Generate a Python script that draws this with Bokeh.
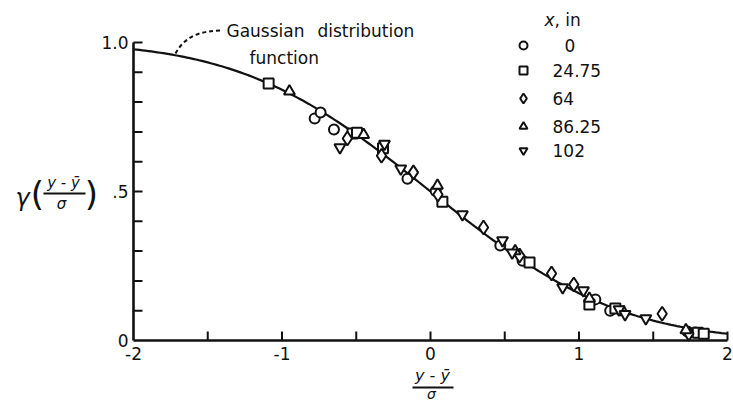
import math
from bokeh.plotting import figure
from bokeh.models import Range1d
from bokeh.core.properties import value
from bokeh.embed import file_html
from bokeh.resources import INLINE

# ---- measured points, gamma vs (y - ybar)/sigma, one list pair per station x (in) ----
circ_x = [-0.78, -0.74, -0.65, -0.155, 0.035, 0.47, 0.62, 1.11, 1.21, 1.73, 1.785]
circ_y = [0.745, 0.765, 0.708, 0.543, 0.502, 0.319, 0.268, 0.138, 0.100, 0.030, 0.027]

sq_x = [-1.09, -0.525, -0.495, -0.32, 0.08, 0.667, 1.07, 1.245, 1.80, 1.84]
sq_y = [0.862, 0.695, 0.697, 0.645, 0.466, 0.262, 0.121, 0.107, 0.026, 0.023]

dia_x = [-0.56, -0.33, -0.115, 0.05, 0.357, 0.60, 0.815, 0.965, 1.56, 1.74]
dia_y = [0.678, 0.620, 0.564, 0.490, 0.379, 0.285, 0.225, 0.188, 0.090, 0.023]

tri_x = [-0.95, -0.45, 0.047, 0.57, 1.07, 1.30, 1.72]
tri_y = [0.836, 0.690, 0.520, 0.300, 0.141, 0.095, 0.035]

inv_x = [-0.61, -0.31, -0.20, 0.215, 0.485, 0.55, 0.89, 1.03, 1.27, 1.31, 1.45]
inv_y = [0.648, 0.660, 0.577, 0.423, 0.336, 0.295, 0.178, 0.168, 0.104, 0.088, 0.074]

legend_labels = ["0", "24.75", "64", "86.25", "102"]
legend_markers = ["circle", "square", "diamond", "triangle", "inverted_triangle"]

x_ticks = [-2, -1.5, -1, -0.5, 0, 0.5, 1, 1.5, 2]
x_tick_labels = {-2: "-2", -1: "-1", 0: "0", 1: "1", 2: "2"}
y_ticks = [0.1, 0.2, 0.3, 0.4, 0.5, 0.6, 0.7, 0.8, 0.9, 1.0]
y_tick_labels = {0: "0", 0.5: ".5", 1.0: "1.0"}

# ---- Gaussian distribution function, gamma = 1 - Phi(eta) ----
curve_x = [-2 + i * 0.02 for i in range(201)]
curve_y = [0.5 * math.erfc(v / math.sqrt(2)) for v in curve_x]

# ---- canvas geometry: data frame fills the whole page ----
W, H = 733, 402
X0, XS = 133, 148.5      # pixel of eta=-2, pixels per unit
Y0, YS = 340, 298        # pixel of gamma=0, pixels per unit


def dx(px):
    return -2 + (px - X0) / XS


def dy(py):
    return (Y0 - py) / YS


FONT = value("DejaVu Sans")
INK = "#111111"

p = figure(width=W, height=H, output_backend="svg", toolbar_location=None,
           x_range=Range1d(dx(0), dx(W)), y_range=Range1d(dy(H), dy(0)),
           min_border=0, outline_line_color=None)
p.axis.visible = False
p.grid.visible = False
p.background_fill_color = "white"
p.border_fill_color = "white"

# axes lines
p.segment(x0=[-2, -2], y0=[0, 0], x1=[2, -2], y1=[0, 1.0], line_color=INK, line_width=2.6)
# x ticks (pointing up)
p.segment(x0=x_ticks[1:], y0=[0] * 8, x1=x_ticks[1:], y1=[dy(Y0 - 9)] * 8,
          line_color=INK, line_width=2)
# y ticks (pointing right)
p.segment(x0=[-2] * len(y_ticks), y0=y_ticks, x1=[dx(X0 + 9)] * len(y_ticks), y1=y_ticks,
          line_color=INK, line_width=2)

# tick labels
xl = list(x_tick_labels.keys())
p.text(x=xl, y=[dy(346)] * len(xl), text=[x_tick_labels[k] for k in xl],
       text_font=FONT, text_font_size="17px", text_align="center",
       text_baseline="top", text_color=INK)
yl = list(y_tick_labels.keys())
p.text(x=[dx(128)] * len(yl), y=yl, text=[y_tick_labels[k] for k in yl],
       text_font=FONT, text_font_size="17px", text_align="right",
       text_baseline="middle", text_color=INK)

# theoretical curve
p.line(curve_x, curve_y, line_color=INK, line_width=2.2)

# data markers
mk = dict(fill_color="white", line_color=INK, line_width=2)
p.scatter(circ_x, circ_y, marker="circle", size=10, **mk)
p.scatter(sq_x, sq_y, marker="square", size=10, **mk)
p.scatter(dia_x, dia_y, marker="diamond", size=14, **mk)
p.scatter(tri_x, tri_y, marker="triangle", size=11, **mk)
p.scatter(inv_x, inv_y, marker="inverted_triangle", size=11, **mk)

# legend
leg_py = [45, 70, 98, 126, 150]
for lab, m, py in zip(legend_labels, legend_markers, leg_py):
    sz = 10 if m == "diamond" else 8
    p.scatter([dx(523)], [dy(py)], marker=m, size=sz, fill_color="white",
              line_color=INK, line_width=2)
    lx = 564 if lab == "0" else 552
    p.text(x=[dx(lx)], y=[dy(py)], text=[lab], text_font=FONT, text_font_size="17px",
           text_baseline="middle", text_color=INK)
p.text(x=[dx(544)], y=[dy(19)], text=["x"], text_font=FONT, text_font_size="17px",
       text_font_style="italic", text_baseline="middle", text_color=INK)
p.text(x=[dx(554)], y=[dy(19)], text=[", in"], text_font=FONT, text_font_size="17px",
       text_baseline="middle", text_color=INK)

# curve annotation with dashed leader
p.text(x=[dx(226), dx(317)], y=[dy(30), dy(30)], text=["Gaussian", "distribution"],
       text_font=FONT, text_font_size="17px", text_baseline="middle", text_color=INK)
p.text(x=[dx(249)], y=[dy(57)], text=["function"], text_font=FONT,
       text_font_size="17px", text_baseline="middle", text_color=INK)
p.bezier(x0=[dx(175)], y0=[dy(53)], x1=[dx(222)], y1=[dy(30)],
         cx0=[dx(184)], cy0=[dy(36)], cx1=[dx(200)], cy1=[dy(30)],
         line_color=INK, line_width=2, line_dash="4 3")

# y-axis title: gamma((y - ybar)/sigma)
p.text(x=[dx(22)], y=[dy(197)], text=["γ"], text_font=FONT, text_font_size="24px",
       text_font_style="italic", text_align="center", text_baseline="middle", text_color=INK)
p.text(x=[dx(37), dx(91)], y=[dy(193), dy(193)], text=["(", ")"], text_font=FONT,
       text_font_size="34px", text_align="center", text_baseline="middle", text_color=INK)
p.text(x=[dx(63)], y=[dy(191)], text=["y - ȳ"], text_font=FONT, text_font_size="15px",
       text_font_style="italic", text_align="center", text_baseline="bottom", text_color=INK)
p.segment(x0=[dx(43)], y0=[dy(193)], x1=[dx(85)], y1=[dy(193)], line_color=INK, line_width=2)
p.text(x=[dx(61)], y=[dy(194)], text=["σ"], text_font=FONT, text_font_size="15px",
       text_font_style="italic", text_align="center", text_baseline="top", text_color=INK)

# x-axis title: (y - ybar)/sigma
p.text(x=[dx(432)], y=[dy(384)], text=["y - ȳ"], text_font=FONT, text_font_size="16px",
       text_font_style="italic", text_align="center", text_baseline="bottom", text_color=INK)
p.segment(x0=[dx(412)], y0=[dy(387)], x1=[dx(453)], y1=[dy(387)], line_color=INK, line_width=2)
p.text(x=[dx(431)], y=[dy(401)], text=["σ"], text_font=FONT, text_font_size="14px",
       text_font_style="italic", text_align="center", text_baseline="bottom", text_color=INK)

open("out.html", "w").write(file_html(p, INLINE))
